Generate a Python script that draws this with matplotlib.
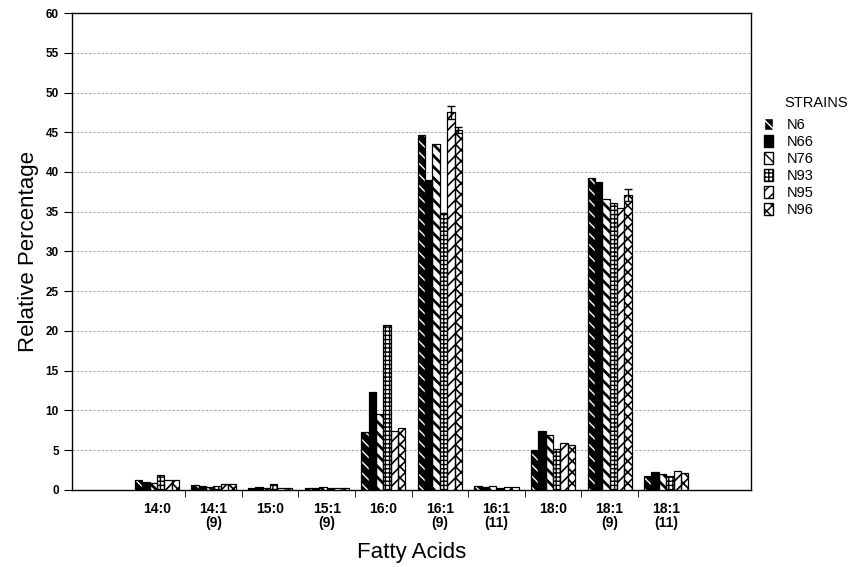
import numpy as np
import matplotlib.pyplot as plt

plt.rcParams['font.family'] = ['Liberation Sans', 'DejaVu Sans']

acids = ["14:0", "14:1\n(9)", "15:0", "15:1\n(9)", "16:0", "16:1\n(9)",
         "16:1\n(11)", "18:0", "18:1\n(9)", "18:1\n(11)"]
strains = ["N6", "N66", "N76", "N93", "N95", "N96"]

n6 = [1.3, 0.6, 0.3, 0.3, 7.3, 44.7, 0.5, 5.0, 39.2, 1.8]
n66 = [1.0, 0.5, 0.4, 0.3, 12.3, 39.0, 0.4, 7.4, 38.7, 2.3]
n76 = [0.9, 0.4, 0.3, 0.4, 9.6, 43.5, 0.5, 6.9, 36.6, 2.0]
n93 = [1.9, 0.5, 0.7, 0.2, 20.8, 34.8, 0.3, 5.1, 36.1, 1.7]
n95 = [1.3, 0.7, 0.3, 0.3, 7.4, 47.5, 0.4, 5.9, 35.5, 2.4]
n96 = [1.2, 0.8, 0.3, 0.3, 7.8, 45.3, 0.4, 5.7, 37.1, 2.1]
values = [n6, n66, n76, n93, n95, n96]

# error bars visible only on a few bars: (strain index, acid index) -> err
err = {(4, 5): 0.8, (5, 5): 0.4, (5, 8): 0.7}

# (face, hatch colour, hatch, hatch linewidth)
styles = [("black", "white", "\\\\\\", 1.0),
          ("black", "black", "", 1.0),
          ("white", "black", "\\\\\\", 2.0),
          ("white", "black", "++++", 1.0),
          ("white", "black", "///", 1.2),
          ("white", "black", "xxx", 1.2)]

fig = plt.figure(figsize=(8.51, 5.67), dpi=100)
ax = fig.add_axes([0.0846, 0.136, 0.798, 0.841])

x = np.arange(1, len(acids) + 1)
w = 0.13
handles = []
for i, (vals, (fc, hc, h, hlw)) in enumerate(zip(values, styles)):
    pos = x + (i - 2.5) * w
    with plt.rc_context({"hatch.linewidth": hlw}):
        ax.bar(pos, vals, w, color=fc, edgecolor=hc, hatch=h, linewidth=0, zorder=3)
        handles.append(plt.Rectangle((0, 0), 1, 1, facecolor=fc, edgecolor=hc, hatch=h))
    ax.bar(pos, vals, w, fill=False, edgecolor="black", linewidth=0.9, zorder=4)
    for j, v in enumerate(vals):
        e = err.get((i, j))
        if e:
            ax.errorbar(pos[j], v, yerr=e, color="black", capsize=3,
                        elinewidth=1, zorder=5)

ax.set_xlim(-0.5, 11.5)
ax.set_ylim(0, 60)
ax.set_yticks(np.arange(0, 61, 5))
ax.set_xticks(x)
ax.set_xticklabels(acids, fontsize=10, fontweight="bold", linespacing=0.95)
ax.set_xticks(np.arange(1.5, 10, 1), minor=True)
ax.tick_params(axis="x", which="major", length=0, pad=9)
ax.tick_params(axis="x", which="minor", length=5, direction="out")
ax.tick_params(axis="y", labelsize=8.5, length=6, width=0.8)
for t in ax.get_yticklabels():
    t.set_fontweight("bold")

ax.grid(axis="y", linestyle=(0, (3, 2)), color="#999999", linewidth=0.6, zorder=0)
for s in ax.spines.values():
    s.set_linewidth(1.0)

ax.set_ylabel("Relative Percentage", fontsize=16, labelpad=5)
ax.set_xlabel("Fatty Acids", fontsize=16, labelpad=9)

fig.text(0.922, 0.818, "STRAINS", fontsize=10.5, va="center", ha="left")
fig.legend(handles, strains, loc="upper left",
           bbox_to_anchor=(0.889, 0.805), frameon=False, fontsize=10.5,
           handlelength=0.6, handleheight=0.9, borderpad=0,
           handletextpad=1.0, labelspacing=0.2)

fig.savefig("out.png", dpi=100)
